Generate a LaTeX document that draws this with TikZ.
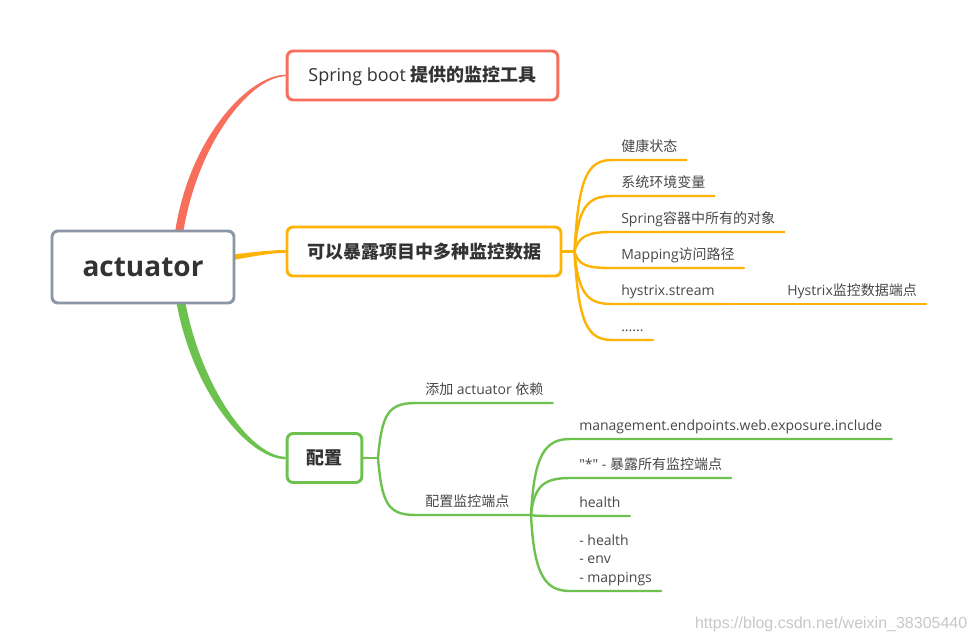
\documentclass[tikz,border=0pt]{standalone}
\usepackage{fontspec}
\setmainfont{Open Sans}[Ligatures=TeXOff]
\newfontfamily\zhfont{Noto Sans CJK SC}
\newfontfamily\markfont{Liberation Sans}
\usetikzlibrary{positioning}
\usetikzlibrary{backgrounds}

\definecolor{mmred}{HTML}{F76E5C}
\definecolor{mmorange}{HTML}{FDB306}
\definecolor{mmgreen}{HTML}{6DC24F}
\definecolor{mmgray}{HTML}{8A95A6}
\definecolor{mmtext}{HTML}{333333}
\definecolor{leaftext}{HTML}{474747}

\newcommand{\zh}[1]{{\zhfont #1}}

\begin{document}
\begin{tikzpicture}[
    x=0.75pt, y=-0.75pt,
    every node/.style={text=mmtext},
    rootbox/.style={rectangle, draw=mmgray, line width=2.2pt, rounded corners=4.5pt, fill=white,
        minimum width=136.5pt, minimum height=54pt, font=\fontsize{21}{24}\selectfont\bfseries},
    topic/.style={rectangle, line width=2.2pt, rounded corners=4.5pt, fill=white,
        minimum height=36.75pt, inner xsep=0pt, font=\fontsize{13.5}{16}\selectfont},
    leaf/.style={anchor=south west, inner xsep=6.75pt, inner ysep=6.5pt, text depth=0pt,
        text=leaftext, font=\fontsize{10.5}{13.9}\selectfont},
    twig/.style={line width=1.8pt, line cap=round}
]
\useasboundingbox (0,0) rectangle (975,640);

% Nodes
\node[rootbox] (root) at (143,267) {actuator};
\coordinate (hub) at (176,262);
\node[topic, draw=mmred, minimum width=203pt] (tool) at (422.5,75.5) {Spring boot \zh{\bfseries 提供的监控工具}};
\node[topic, draw=mmorange, minimum width=205.5pt] (expose) at (424,251.5) {\zh{\bfseries 可以暴露项目中多种监控数据}};
\node[topic, draw=mmgreen, minimum width=56pt] (config) at (324.5,458) {\zh{\bfseries 配置}};

\node[leaf] (health) at (612,160) {\zh{健康状态}};
\node[leaf] (env) at (612,196) {\zh{系统环境变量}};
\node[leaf] (beans) at (612,232) {Spring\zh{容器中所有的对象}};
\node[leaf] (mapping) at (612,268) {Mapping\zh{访问路径}};
\node[leaf] (hystrix) at (612,304) {hystrix.stream};
\node[leaf] (hysnote) at (778,304) {Hystrix\zh{监控数据端点}};
\node[leaf] (more) at (612,340) {......};

\node[leaf] (dep) at (416,403) {\zh{添加} actuator \zh{依赖}};
\node[leaf] (endpoint) at (416,515) {\zh{配置监控端点}};
\coordinate (epfan) at (531,515);
\node[leaf] (include) at (570,439) {management.endpoints.web.exposure.include};
\node[leaf] (all) at (570,478) {"*" - \zh{暴露所有监控端点}};
\node[leaf] (one) at (570,516) {health};
\node[leaf, align=left] (list) at (570,591) {- health\\- env\\- mappings};

\node[font=\markfont\fontsize{12}{14}\selectfont, text=black!22, anchor=east] (mark) at (972,624) {https://blog.csdn.net/weixin\_38305440};

\coordinate[right=9pt of expose] (exposefan);
\coordinate[right=11pt of config] (configfan);

% Edges
\begin{pgfonlayer}{background}
\fill[mmred] ([xshift=-2.9pt]hub) .. controls +(5,-112) and +(-40,0) .. ([yshift=0.6pt]tool.west)
    -- ([yshift=-0.6pt]tool.west) .. controls +(-37,0) and +(7,-108) .. ([xshift=2.9pt]hub) -- cycle;
\fill[mmorange] ([yshift=2.9pt]hub) .. controls +(45,0) and +(-30,0) .. ([yshift=1.1pt]expose.west)
    -- ([yshift=-1.1pt]expose.west) .. controls +(-30,0) and +(45,0) .. ([yshift=-2.9pt]hub) -- cycle;
\fill[mmgreen] ([xshift=-3.1pt]hub) .. controls +(5,112) and +(-42,0) .. ([yshift=-0.9pt]config.west)
    -- ([yshift=0.9pt]config.west) .. controls +(-38,0) and +(7,108) .. ([xshift=3.1pt]hub) -- cycle;
\end{pgfonlayer}

\draw[twig, mmorange] (expose.east) -- (exposefan);
\draw[twig, mmorange] (exposefan) .. controls +(4,-73) and +(-25,0) .. (health.south west) -- (health.south east);
\draw[twig, mmorange] (exposefan) .. controls +(4,-44) and +(-25,0) .. (env.south west) -- (env.south east);
\draw[twig, mmorange] (exposefan) .. controls +(4,-15) and +(-25,0) .. (beans.south west) -- (beans.south east);
\draw[twig, mmorange] (exposefan) .. controls +(4,14) and +(-25,0) .. (mapping.south west) -- (mapping.south east);
\draw[twig, mmorange] (exposefan) .. controls +(4,42) and +(-25,0) .. (hystrix.south west) -- (hystrix.south east);
\draw[twig, mmorange] (hystrix.south east) -- (hysnote.south west) -- (hysnote.south east);
\draw[twig, mmorange] (exposefan) .. controls +(4,71) and +(-25,0) .. (more.south west) -- (more.south east);

\draw[twig, mmgreen] (config.east) -- (configfan);
\draw[twig, mmgreen] (configfan) .. controls +(4,-44) and +(-28,0) .. (dep.south west) -- (dep.south east);
\draw[twig, mmgreen] (configfan) .. controls +(4,46) and +(-28,0) .. (endpoint.south west) -- (epfan);
\draw[twig, mmgreen] (epfan) .. controls +(3,-60) and +(-25,0) .. (include.south west) -- (include.south east);
\draw[twig, mmgreen] (epfan) .. controls +(3,-30) and +(-25,0) .. (all.south west) -- (all.south east);
\draw[twig, mmgreen] (epfan) .. controls +(3,1) and +(-25,0) .. (one.south west) -- (one.south east);
\draw[twig, mmgreen] (epfan) .. controls +(3,60) and +(-25,0) .. (list.south west) -- (list.south east);

\end{tikzpicture}
\end{document}
